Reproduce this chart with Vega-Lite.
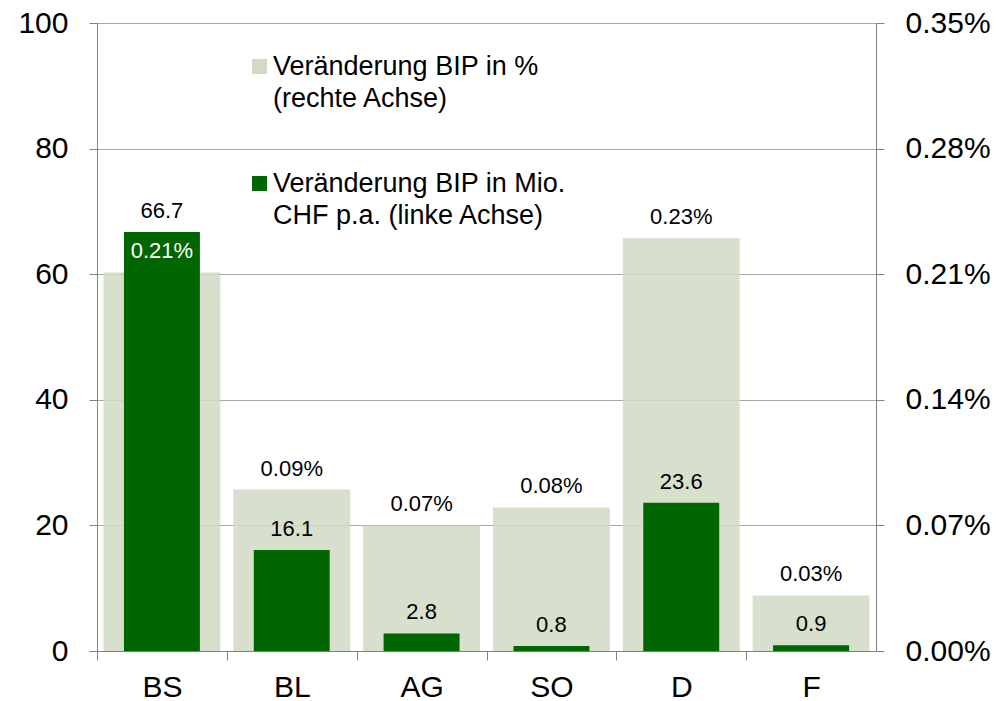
{
  "$schema": "https://vega.github.io/schema/vega-lite/v6.json",
  "width": 779,
  "height": 628,
  "autosize": {"type": "none"},
  "padding": {"left": 97, "top": 23, "right": 122, "bottom": 50},
  "background": "white",
  "config": {"font": "Liberation Sans", "view": {"stroke": null}},
  "data": {
    "values": [
      {"cat": "BS", "mio": 66.7, "pct": 0.00211},
      {"cat": "BL", "mio": 16.1, "pct": 0.00090},
      {"cat": "AG", "mio": 2.8, "pct": 0.00070},
      {"cat": "SO", "mio": 0.8, "pct": 0.00080},
      {"cat": "D", "mio": 23.6, "pct": 0.00230},
      {"cat": "F", "mio": 0.9, "pct": 0.00031}
    ]
  },
  "encoding": {
    "x": {
      "field": "cat",
      "type": "nominal",
      "sort": null,
      "scale": {"paddingInner": 0.1, "paddingOuter": 0.05},
      "axis": {
        "title": null,
        "labelAngle": 0,
        "labelFontSize": 30,
        "labelColor": "black",
        "domainColor": "#808080",
        "tickColor": "#808080",
        "tickSize": 9,
        "tickOffset": -64.9,
        "labelOffset": 64.9,
        "labelPadding": 12,
        "grid": false
      }
    }
  },
  "layer": [
    {
      "mark": {"type": "bar", "fillOpacity": 0.85},
      "encoding": {
        "y": {
          "field": "pct",
          "type": "quantitative",
          "scale": {"domain": [0, 0.0035], "nice": false},
          "axis": {
            "orient": "right",
            "title": null,
            "values": [0, 0.0007, 0.0014, 0.0021, 0.0028, 0.0035],
            "format": ".2%",
            "grid": false,
            "labelFontSize": 30,
            "labelColor": "black",
            "labelPadding": 21,
            "tickSize": 8,
            "tickColor": "#808080",
            "domainColor": "#808080"
          }
        },
        "color": {
          "datum": "Veränderung BIP in %|(rechte Achse)",
          "scale": {
            "domain": ["Veränderung BIP in %|(rechte Achse)", "Veränderung BIP in Mio.|CHF p.a. (linke Achse)"],
            "range": ["#cfdbc4", "#006600"]
          },
          "legend": {
            "orient": "none",
            "legendX": 149,
            "legendY": 30,
            "title": null,
            "symbolType": "square",
            "symbolSize": 225,
            "symbolStrokeWidth": 0,
            "labelFontSize": 27,
            "labelColor": "black",
            "labelLimit": 0,
            "labelBaseline": "middle",
            "labelOffset": 0,
            "rowPadding": 57,
            "labelExpr": "split(datum.label, '|')",
            "encode": {"labels": {"update": {"lineHeight": {"value": 32}}}}
          }
        }
      }
    },
    {
      "mark": {"type": "bar", "width": {"band": 0.65}},
      "encoding": {
        "y": {
          "field": "mio",
          "type": "quantitative",
          "scale": {"domain": [0, 100], "nice": false},
          "axis": {
            "orient": "left",
            "title": null,
            "values": [0, 20, 40, 60, 80, 100],
            "grid": true,
            "gridColor": "#a6a6a6",
            "labelFontSize": 30,
            "labelColor": "black",
            "labelPadding": 21,
            "tickSize": 8,
            "tickColor": "#808080",
            "domainColor": "#808080"
          }
        },
        "color": {"datum": "Veränderung BIP in Mio.|CHF p.a. (linke Achse)"}
      }
    },
    {
      "mark": {"type": "text", "baseline": "alphabetic", "dy": -14, "fontSize": 22},
      "encoding": {
        "y": {"field": "pct", "type": "quantitative", "scale": {"domain": [0, 0.0035], "nice": false}, "axis": null},
        "text": {"field": "pct", "type": "quantitative", "format": ".2%"},
        "color": {"condition": {"test": "datum.cat === 'BS'", "value": "white"}, "value": "black"}
      }
    },
    {
      "mark": {"type": "text", "baseline": "alphabetic", "dy": -14, "fontSize": 22, "color": "black"},
      "encoding": {
        "y": {"field": "mio", "type": "quantitative", "scale": {"domain": [0, 100], "nice": false}, "axis": null},
        "text": {"field": "mio", "type": "quantitative", "format": ".1f"}
      }
    }
  ],
  "resolve": {"scale": {"y": "independent"}}
}
